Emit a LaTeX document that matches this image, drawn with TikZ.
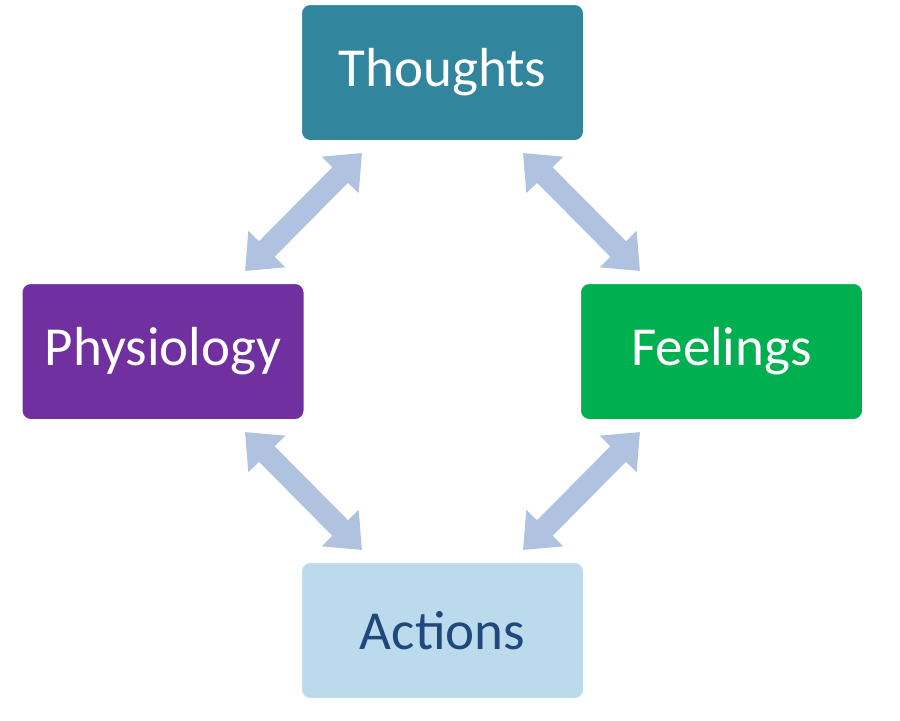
\documentclass[tikz,border=0pt]{standalone}
\usepackage{fontspec}
\setmainfont{Carlito}
\usetikzlibrary{arrows.meta}
\definecolor{thoughtc}{HTML}{31859C}
\definecolor{physc}{HTML}{7030A0}
\definecolor{feelc}{HTML}{00B050}
\definecolor{actc}{HTML}{BBDBED}
\definecolor{acttext}{HTML}{1F497D}
\definecolor{arrowc}{HTML}{AFC2DF}
\tikzset{
  box/.style={draw=white, line width=2pt, rounded corners=5pt, minimum width=142.5pt, minimum height=69.5pt, inner sep=0pt, font=\fontsize{27.5}{33}\selectfont, text=white},
  dblarrow/.style={draw=arrowc, line width=11pt, {Triangle[width=25pt,length=15.5pt]}-{Triangle[width=25pt,length=15.5pt]}}
}
\begin{document}
\begin{tikzpicture}[x=0.5pt,y=-0.5pt]
\useasboundingbox[fill=white] (0,0) rectangle (900,720);
\node[box, fill=thoughtc] (thoughts) at (442.5,72.5) {Thoughts};
\node[box, fill=physc] (phys) at (163,351.5) {Physiology};
\node[box, fill=feelc] (feel) at (721.5,351.5) {Feelings};
\node[box, fill=actc, text=acttext] (act) at (442.5,630.5) {Actions};
\coordinate (tp1) at (362,153);
\coordinate (tp2) at (245,271);
\coordinate (tf1) at (523,153);
\coordinate (tf2) at (640,271);
\coordinate (pa1) at (245,432);
\coordinate (pa2) at (362,550);
\coordinate (fa1) at (640,432);
\coordinate (fa2) at (523,550);
\draw[dblarrow] (tp1) -- (tp2);
\draw[dblarrow] (tf1) -- (tf2);
\draw[dblarrow] (pa1) -- (pa2);
\draw[dblarrow] (fa1) -- (fa2);
\end{tikzpicture}
\end{document}
